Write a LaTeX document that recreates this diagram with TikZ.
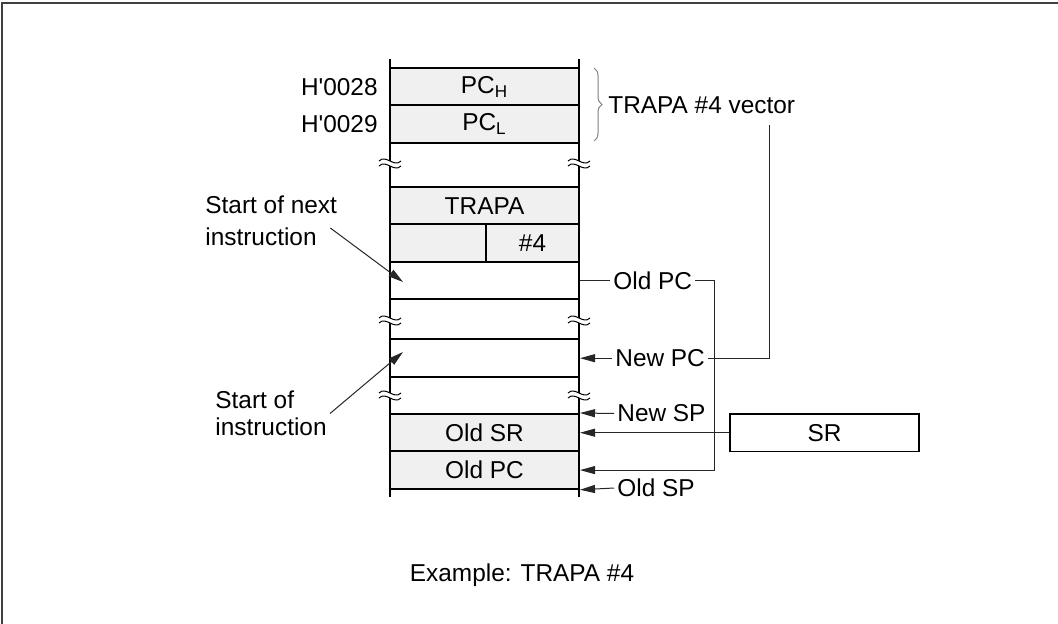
\documentclass[tikz,border=0pt]{standalone}
\usepackage{fontspec}
\setmainfont{Liberation Sans}
\usetikzlibrary{calc,arrows.meta,positioning,decorations.pathreplacing}
\definecolor{cellgray}{RGB}{240,240,240}

\begin{document}
\begin{tikzpicture}[x=0.5pt,y=-0.5pt,
  font=\fontsize{12.2}{14.5}\selectfont,
  cell/.style={draw, line width=1pt, fill=cellgray, minimum width=94.5pt, minimum height=18.7pt, inner sep=0pt},
  blank/.style={cell, fill=white},
  lbl/.style={inner sep=1.5pt},
  wire/.style={line width=0.5pt, black!85},
  ptr/.style={wire, -{Triangle[length=7.5pt,width=4pt]}},
  brk/.pic={
    \fill[white] (-11,-2) .. controls (-4,-9) and (4,5) .. (11,-2) -- (11,3) .. controls (4,10) and (-4,-4) .. (-11,3) -- cycle;
    \draw[line width=0.5pt] (-11,-2) .. controls (-4,-9) and (4,5) .. (11,-2);
    \draw[line width=0.5pt] (-11,3) .. controls (-4,-4) and (4,10) .. (11,3);
  }]
 \useasboundingbox (0,0) rectangle (1058,624);
 \draw[line width=1pt, black!75] (2,624) -- (2,3) -- (1058,3);

 % memory column
 \node[cell] (pch) at (484.5,86.7) {PC\textsubscript{H}};
 \node[cell] (pcl) at (484.5,124.1) {PC\textsubscript{L}};
 \node[cell] (trapa) at (484.5,205.7) {TRAPA};
 \node[cell, minimum width=48pt] (opnd) at (438,243.1) {};
 \node[cell, minimum width=46.5pt] (imm) at (532.5,243.1) {\#4};
 \node[blank] (nextrow) at (484.5,280.5) {};
 \node[blank] (currow) at (484.5,358.2) {};
 \node[cell] (oldsr) at (484.5,432.7) {Old SR};
 \node[cell] (stkpc) at (484.5,470.1) {Old PC};
 \draw[line width=1pt] (390,59) -- (390,497);
 \draw[line width=1pt] (579,59) -- (579,497);
 \pic at (390,163) {brk};
 \pic at (579,163) {brk};
 \pic at (390,320) {brk};
 \pic at (579,320) {brk};
 \pic at (390,395) {brk};
 \pic at (579,395) {brk};

 % addresses and vector
 \node[lbl, left=4pt of pch] (a28) {H\textquotesingle 0028};
 \node[lbl, left=4pt of pcl] (a29) {H\textquotesingle 0029};
 \draw[wire, gray, decorate, decoration={brace, amplitude=4pt}] (594,68) -- (594,141);
 \node[lbl, anchor=west] (vec) at (605,105) {TRAPA \#4 vector};

 % labels on the right
 \node[lbl, anchor=west] (oldpc) at (610,280.5) {Old PC};
 \node[lbl, anchor=west] (newpc) at (612,358.2) {New PC};
 \node[lbl, anchor=west] (newsp) at (614,413.5) {New SP};
 \node[lbl, anchor=west] (oldsp) at (614,488) {Old SP};
 \node[blank, line width=0.8pt] (sr) at (824.5,432.7) {SR};

 \draw[wire] (nextrow.east) -- (oldpc.west);
 \coordinate (bend) at (714,0);
 \draw[ptr] (oldpc.east) -- (oldpc.east -| bend) |- (stkpc.east);
 \coordinate (vdrop) at (769,125);
 \draw[wire] (vdrop) |- (newpc.east);
 \draw[ptr] (newpc.west) -- (currow.east);
 \draw[ptr] (newsp.west) -- (oldsr.north east);
 \draw[ptr] (sr.west) -- (oldsr.east);
 \draw[ptr] (oldsp.west) -- (stkpc.south east);

 % labels on the left
 \node[lbl, align=left, anchor=west] (nxt) at (202,221) {Start of next\\[1.5pt]instruction};
 \node[lbl, align=left, anchor=west] (cur) at (212,413.5) {Start of\\[-1pt]instruction};
 \coordinate (nxtpt) at (403,282);
 \coordinate (curpt) at (403,352);
 \draw[ptr] ($(nxt.east)+(-10,7)$) -- (nxtpt);
 \draw[ptr] (cur.east) -- (curpt);

 \node (caption) at (522,575) {Example: TRAPA \#4};
\end{tikzpicture}
\end{document}
